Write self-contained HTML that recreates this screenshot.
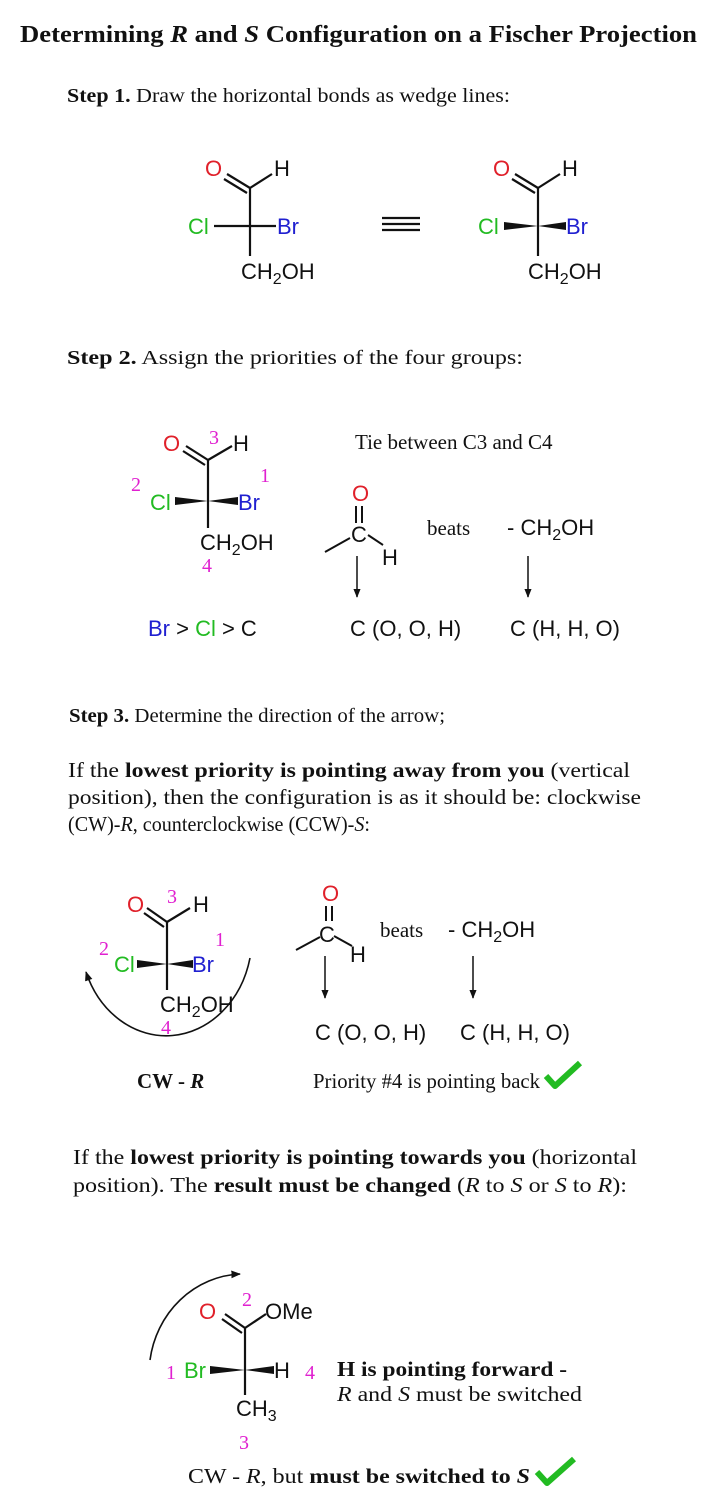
<!DOCTYPE html>
<html><head><meta charset="utf-8"><style>
html,body{margin:0;padding:0;background:#fff}
svg{display:block}
.s{font-family:"Liberation Serif",serif;fill:#111}
.a{font-family:"Liberation Sans",sans-serif;font-size:22px;fill:#111}
.m{font-family:"Liberation Serif",serif;font-size:20px;fill:#e020d0}
.r{fill:#e0202a}.g{fill:#22bb22}.b{fill:#2020d0}
</style></head><body>
<svg width="720" height="1505" viewBox="0 0 720 1505" xmlns="http://www.w3.org/2000/svg">
<defs>
<marker id="ah" viewBox="0 0 10 10" refX="9" refY="5" markerWidth="6" markerHeight="6" orient="auto"><path d="M0,1 L10,5 L0,9 z" fill="#111"/></marker>
</defs>
<text class="s" x="20" y="42" font-size="24" font-weight="bold" textLength="677" lengthAdjust="spacingAndGlyphs">Determining <tspan font-style="italic">R</tspan> and <tspan font-style="italic">S</tspan> Configuration on a Fischer Projection</text>
<text class="s" x="67" y="102" font-size="20" textLength="443" lengthAdjust="spacingAndGlyphs"><tspan font-weight="bold">Step 1.</tspan> Draw the horizontal bonds as wedge lines:</text>

<!-- Molecule 1 -->
<g stroke="#111" stroke-width="2.2" fill="none">
<line x1="250" y1="188" x2="250" y2="256"/>
<line x1="250" y1="188" x2="272" y2="174"/>
<line x1="250" y1="188" x2="227" y2="174"/><line x1="247" y1="193" x2="224" y2="179"/>
<line x1="214" y1="226" x2="276" y2="226"/>
<line x1="382" y1="218" x2="420" y2="218"/><line x1="382" y1="224" x2="420" y2="224"/><line x1="382" y1="230" x2="420" y2="230"/>
</g>
<text class="a r" x="205" y="176">O</text><text class="a" x="274" y="176">H</text>
<text class="a g" x="188" y="234">Cl</text><text class="a b" x="277" y="234">Br</text>
<text class="a" x="241" y="279">CH<tspan font-size="16" dy="5">2</tspan><tspan dy="-5">OH</tspan></text>

<!-- Molecule 2 -->
<g stroke="#111" stroke-width="2.2" fill="none">
<line x1="538" y1="188" x2="538" y2="256"/>
<line x1="538" y1="188" x2="560" y2="174"/>
<line x1="538" y1="188" x2="515" y2="174"/><line x1="535" y1="193" x2="512" y2="179"/>
</g>
<polygon points="504,222 504,230 538,226" fill="#111"/><polygon points="538,226 566,222 566,230" fill="#111"/>
<text class="a r" x="493" y="176">O</text><text class="a" x="562" y="176">H</text>
<text class="a g" x="478" y="234">Cl</text><text class="a b" x="566" y="234">Br</text>
<text class="a" x="528" y="279">CH<tspan font-size="16" dy="5">2</tspan><tspan dy="-5">OH</tspan></text>

<text class="s" x="67" y="364" font-size="20" textLength="456" lengthAdjust="spacingAndGlyphs"><tspan font-weight="bold">Step 2.</tspan> Assign the priorities of the four groups:</text>

<!-- Molecule 3 -->
<g stroke="#111" stroke-width="2.2" fill="none">
<line x1="208" y1="460" x2="208" y2="528"/>
<line x1="208" y1="460" x2="232" y2="446"/>
<line x1="208" y1="460" x2="186" y2="446"/><line x1="205" y1="465" x2="183" y2="451"/>
</g>
<polygon points="175,497 175,505 208,501" fill="#111"/><polygon points="208,501 238,497 238,505" fill="#111"/>
<text class="a r" x="163" y="451">O</text><text class="m" x="209" y="444">3</text><text class="a" x="233" y="451">H</text>
<text class="m" x="131" y="491">2</text><text class="m" x="260" y="482">1</text>
<text class="a g" x="150" y="510">Cl</text><text class="a b" x="238" y="510">Br</text>
<text class="a" x="200" y="550">CH<tspan font-size="16" dy="5">2</tspan><tspan dy="-5">OH</tspan></text>
<text class="m" x="202" y="572">4</text>
<text class="a" x="148" y="636"><tspan class="b">Br</tspan> &gt; <tspan class="g">Cl</tspan> &gt; C</text>

<text class="s" x="355" y="449" font-size="21">Tie between C3 and C4</text>
<text class="a r" x="352" y="501">O</text>
<g stroke="#111" stroke-width="2" fill="none">
<line x1="356" y1="506" x2="356" y2="523"/><line x1="362" y1="506" x2="362" y2="523"/>
<line x1="325" y1="552" x2="350" y2="538"/><line x1="368" y1="535" x2="383" y2="545"/>
<line x1="357" y1="556" x2="357" y2="597" stroke-width="1.5" marker-end="url(#ah)"/>
<line x1="528" y1="556" x2="528" y2="597" stroke-width="1.5" marker-end="url(#ah)"/>
</g>
<text class="a" x="351" y="542">C</text><text class="a" x="382" y="565">H</text>
<text class="s" x="427" y="535" font-size="21">beats</text>
<text class="a" x="507" y="535">- CH<tspan font-size="16" dy="5">2</tspan><tspan dy="-5">OH</tspan></text>
<text class="a" x="350" y="636">C (O, O, H)</text>
<text class="a" x="510" y="636">C (H, H, O)</text>

<text class="s" x="69" y="722" font-size="20" textLength="376" lengthAdjust="spacingAndGlyphs"><tspan font-weight="bold">Step 3.</tspan> Determine the direction of the arrow;</text>
<text class="s" x="68" y="777" font-size="21" textLength="562" lengthAdjust="spacingAndGlyphs">If the <tspan font-weight="bold">lowest priority is pointing away from you</tspan> (vertical</text>
<text class="s" x="68" y="804" font-size="21" textLength="573" lengthAdjust="spacingAndGlyphs">position), then the configuration is as it should be: clockwise</text>
<text class="s" x="68" y="831" font-size="21" textLength="302" lengthAdjust="spacingAndGlyphs">(CW)-<tspan font-style="italic">R</tspan>, counterclockwise (CCW)-<tspan font-style="italic">S</tspan>:</text>

<!-- Molecule 4 -->
<g stroke="#111" stroke-width="2.2" fill="none">
<line x1="167" y1="922" x2="167" y2="990"/>
<line x1="167" y1="922" x2="190" y2="908"/>
<line x1="167" y1="922" x2="147" y2="908"/><line x1="164" y1="927" x2="144" y2="913"/>
<path d="M250,958 A86,100 0 0 1 86,972" stroke-width="1.6" marker-end="url(#ah)"/>
</g>
<polygon points="137,960 137,968 167,964" fill="#111"/><polygon points="167,964 193,960 193,968" fill="#111"/>
<text class="a r" x="127" y="912">O</text><text class="m" x="167" y="903">3</text><text class="a" x="193" y="912">H</text>
<text class="m" x="99" y="955">2</text><text class="m" x="215" y="946">1</text>
<text class="a g" x="114" y="972">Cl</text><text class="a b" x="192" y="972">Br</text>
<text class="a" x="160" y="1012">CH<tspan font-size="16" dy="5">2</tspan><tspan dy="-5">OH</tspan></text>
<text class="m" x="161" y="1034">4</text>
<text class="s" x="137" y="1088" font-size="21" font-weight="bold">CW - <tspan font-style="italic">R</tspan></text>

<text class="a r" x="322" y="901">O</text>
<g stroke="#111" stroke-width="2" fill="none">
<line x1="326" y1="906" x2="326" y2="921"/><line x1="332" y1="906" x2="332" y2="921"/>
<line x1="334" y1="936" x2="352" y2="946"/><line x1="296" y1="950" x2="320" y2="937"/>
<line x1="325" y1="956" x2="325" y2="998" stroke-width="1.5" marker-end="url(#ah)"/>
<line x1="473" y1="956" x2="473" y2="998" stroke-width="1.5" marker-end="url(#ah)"/>
</g>
<text class="a" x="319" y="942">C</text><text class="a" x="350" y="962">H</text>
<text class="s" x="380" y="937" font-size="21">beats</text>
<text class="a" x="448" y="937">- CH<tspan font-size="16" dy="5">2</tspan><tspan dy="-5">OH</tspan></text>
<text class="a" x="315" y="1040">C (O, O, H)</text>
<text class="a" x="460" y="1040">C (H, H, O)</text>
<text class="s" x="313" y="1088" font-size="21" textLength="227" lengthAdjust="spacingAndGlyphs">Priority #4 is pointing back</text>
<path d="M546,1076 L555,1086 L580,1063" stroke="#22bb22" stroke-width="6" fill="none" stroke-linejoin="round"/>

<text class="s" x="73" y="1164" font-size="21" textLength="564" lengthAdjust="spacingAndGlyphs">If the <tspan font-weight="bold">lowest priority is pointing towards you</tspan> (horizontal</text>
<text class="s" x="73" y="1192" font-size="21" textLength="554" lengthAdjust="spacingAndGlyphs">position). The <tspan font-weight="bold">result must be changed</tspan> (<tspan font-style="italic">R</tspan> to <tspan font-style="italic">S</tspan> or <tspan font-style="italic">S</tspan> to <tspan font-style="italic">R</tspan>):</text>

<!-- Molecule 5 -->
<g stroke="#111" stroke-width="2.2" fill="none">
<line x1="245" y1="1328" x2="245" y2="1395"/>
<line x1="245" y1="1328" x2="266" y2="1314"/>
<line x1="245" y1="1328" x2="225" y2="1314"/><line x1="242" y1="1333" x2="222" y2="1319"/>
<path d="M150,1360 A95,100 0 0 1 240,1274" stroke-width="1.6" marker-end="url(#ah)"/>
</g>
<polygon points="210,1366 210,1374 245,1370" fill="#111"/><polygon points="245,1370 274,1366 274,1374" fill="#111"/>
<text class="a r" x="199" y="1319">O</text><text class="m" x="242" y="1306">2</text><text class="a" x="265" y="1319">OMe</text>
<text class="m" x="166" y="1379">1</text><text class="a g" x="184" y="1378">Br</text>
<text class="a" x="274" y="1378">H</text><text class="m" x="305" y="1379">4</text>
<text class="a" x="236" y="1416">CH<tspan font-size="16" dy="5">3</tspan></text>
<text class="m" x="239" y="1449">3</text>
<text class="s" x="337" y="1376" font-size="21" font-weight="bold" textLength="230" lengthAdjust="spacingAndGlyphs">H is pointing forward -</text>
<text class="s" x="337" y="1401" font-size="21" textLength="245" lengthAdjust="spacingAndGlyphs"><tspan font-style="italic">R</tspan> and <tspan font-style="italic">S</tspan> must be switched</text>
<text class="s" x="188" y="1483" font-size="21" textLength="342" lengthAdjust="spacingAndGlyphs">CW - <tspan font-style="italic">R</tspan>, but <tspan font-weight="bold">must be switched to <tspan font-style="italic">S</tspan></tspan></text>
<path d="M537,1472 L547,1483 L574,1459" stroke="#22bb22" stroke-width="6" fill="none" stroke-linejoin="round"/>
</svg>
</body></html>
